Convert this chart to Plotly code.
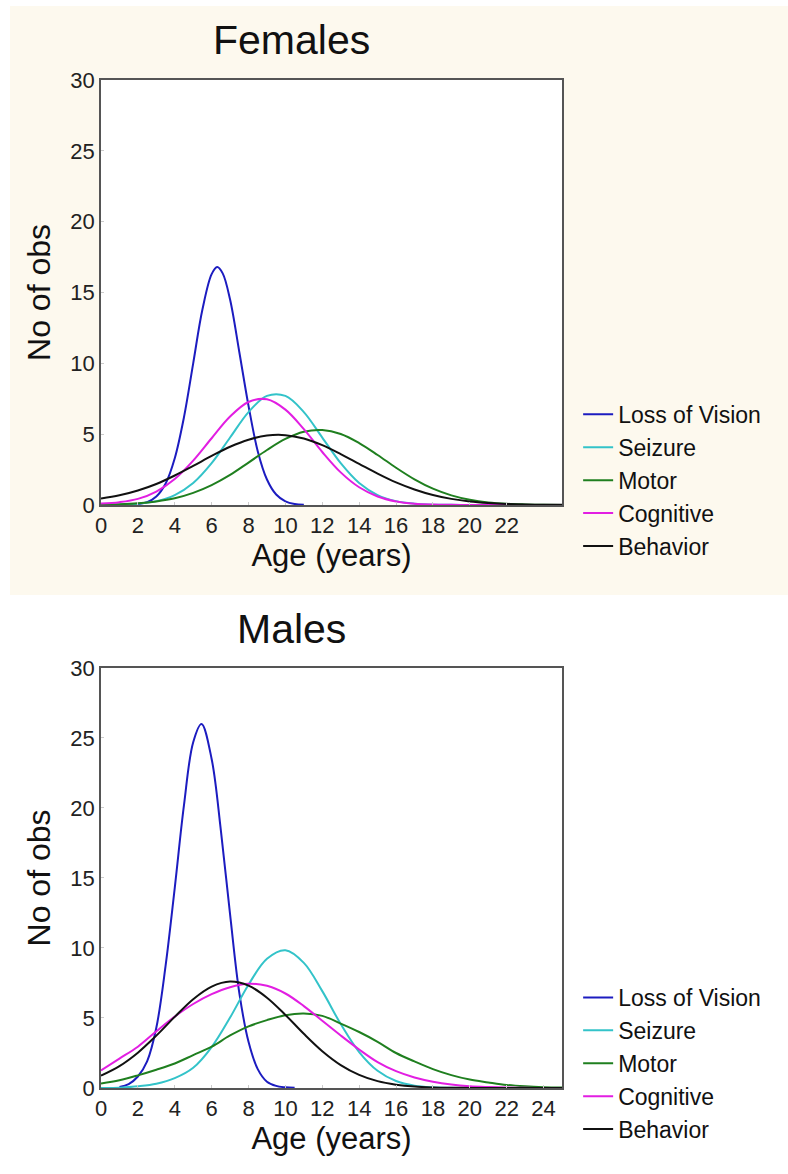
import plotly.graph_objects as go

# ---------------- data ----------------
SERIES = ["Loss of Vision", "Seizure", "Motor", "Cognitive", "Behavior"]
COLORS = ["#1C1CC0", "#33C3C9", "#1F7F1F", "#E21EE2", "#111111"]

AGE = list(range(26))  # 0 .. 25 years

# Females
f_vision_age = [2, 2.5, 3, 3.5, 4, 4.5, 5, 5.5, 6, 6.3, 6.6, 7, 7.5, 8, 8.5, 9, 9.5, 10, 10.5, 11]
f_vision = [0.06, 0.2, 0.6, 1.5, 3.3, 6.2, 10.0, 13.8, 16.3, 16.8, 16.35, 14.5, 10.8, 7.0, 3.8, 1.8, 0.74, 0.26, 0.07, 0.02]
f_seizure = [0.01, 0.02, 0.09, 0.27, 0.70, 1.55, 2.95, 4.76, 6.56, 7.70, 7.70, 6.56, 4.76, 2.95, 1.55, 0.70,
             0.27, 0.09, 0.02, 0.01, 0, 0, 0, 0, 0, 0]
f_motor = [0.02, 0.05, 0.12, 0.25, 0.47, 0.85, 1.40, 2.12, 2.99, 3.88, 4.66, 5.17, 5.29, 5.01, 4.37, 3.53,
           2.63, 1.81, 1.15, 0.68, 0.37, 0.18, 0.085, 0.04, 0.015, 0.005]
f_cognitive = [0.10, 0.20, 0.43, 0.95, 1.83, 3.13, 4.71, 6.24, 7.27, 7.46, 6.73, 5.35, 3.74, 2.30, 1.25, 0.60,
               0.25, 0.09, 0.03, 0.01, 0, 0, 0, 0, 0, 0]
f_behavior = [0.45, 0.68, 1.02, 1.48, 2.08, 2.76, 3.46, 4.11, 4.61, 4.90, 4.93, 4.69, 4.22, 3.59, 2.90, 2.21,
              1.59, 1.09, 0.70, 0.43, 0.25, 0.14, 0.07, 0.035, 0.016, 0.007]

# Males
m_vision_age = [1, 1.5, 2, 2.5, 3, 3.5, 4, 4.5, 5, 5.45, 6, 6.5, 7, 7.5, 8, 8.5, 9, 9.5, 10, 10.5]
m_vision = [0.08, 0.28, 0.82, 1.9, 4.3, 8.7, 14.3, 20.2, 24.7, 26.0, 23.5, 18.4, 12.4, 6.8, 3.3, 1.35, 0.45, 0.15, 0.05, 0.01]
m_seizure = [0.004, 0.02, 0.12, 0.30, 0.70, 1.44, 2.92, 5.03, 7.38, 9.23, 9.84, 8.94, 6.92, 4.57, 2.57, 1.23,
             0.50, 0.17, 0.05, 0.015, 0, 0, 0, 0, 0, 0]
m_motor = [0.32, 0.55, 0.90, 1.30, 1.75, 2.35, 2.95, 3.75, 4.40, 4.85, 5.20, 5.32, 5.15, 4.60, 4.00, 3.30,
           2.50, 1.90, 1.35, 0.92, 0.60, 0.40, 0.22, 0.12, 0.06, 0.03]
m_cognitive = [1.25, 2.10, 2.95, 4.05, 5.10, 6.00, 6.70, 7.20, 7.44, 7.30, 6.75, 5.85, 4.80, 3.75, 2.75, 1.85,
               1.20, 0.75, 0.45, 0.25, 0.13, 0.07, 0.03, 0.01, 0, 0]
m_behavior = [0.88, 1.56, 2.52, 3.74, 5.08, 6.34, 7.24, 7.60, 7.31, 6.45, 5.22, 3.87, 2.63, 1.64, 0.94, 0.49,
              0.24, 0.10, 0.04, 0.015, 0.005, 0, 0, 0, 0, 0]

F_TICKS = [0, 2, 4, 6, 8, 10, 12, 14, 16, 18, 20, 22]
M_TICKS = [0, 2, 4, 6, 8, 10, 12, 14, 16, 18, 20, 22, 24]
Y_TICKS = [0, 5, 10, 15, 20, 25, 30]

FONT = "Liberation Sans, Arial, sans-serif"

panels = [
    ("x", "y", "legend", [(f_vision_age, f_vision), (AGE, f_seizure), (AGE, f_motor), (AGE, f_cognitive), (AGE, f_behavior)]),
    ("x2", "y2", "legend2", [(m_vision_age, m_vision), (AGE, m_seizure), (AGE, m_motor), (AGE, m_cognitive), (AGE, m_behavior)]),
]

fig = go.Figure()
for xa, ya, leg, data in panels:
    for name, color, (xs, ys) in zip(SERIES, COLORS, data):
        fig.add_trace(go.Scatter(
            x=xs, y=ys, name=name, mode="lines",
            line=dict(color=color, width=2, shape="spline", smoothing=1),
            xaxis=xa, yaxis=ya, legend=leg, hoverinfo="x+y+name",
        ))

axis_common = dict(
    showline=True, mirror=True, linecolor="#555555", linewidth=1.5,
    showgrid=False, zeroline=False, ticks="inside", ticklen=3, tickcolor="#cccccc",
    tickfont=dict(family=FONT, size=22, color="#222222"),
)

fig.update_layout(
    width=788, height=1174, autosize=False,
    margin=dict(l=101, r=226, t=80, b=86),
    paper_bgcolor="white", plot_bgcolor="white",
    font=dict(family=FONT, color="#111111"),
    xaxis=dict(domain=[0, 1], anchor="y", range=[0, 25], tickvals=F_TICKS,
               title=dict(text="Age (years)", font=dict(family=FONT, size=31, color="#111111"), standoff=6),
               **axis_common),
    yaxis=dict(domain=[0.5784, 1.0], anchor="x", range=[0, 30], tickvals=Y_TICKS,
               title=dict(text="No of obs", font=dict(family=FONT, size=32, color="#111111"), standoff=10),
               **axis_common),
    xaxis2=dict(domain=[0, 1], anchor="y2", range=[0, 25], tickvals=M_TICKS,
                title=dict(text="Age (years)", font=dict(family=FONT, size=31, color="#111111"), standoff=6),
                **axis_common),
    yaxis2=dict(domain=[0.0, 0.4167], anchor="x2", range=[0, 30], tickvals=Y_TICKS,
                title=dict(text="No of obs", font=dict(family=FONT, size=32, color="#111111"), standoff=10),
                **axis_common),
    legend=dict(x=1.035, y=0.6896, xanchor="left", yanchor="top",
                bgcolor="rgba(0,0,0,0)", font=dict(family=FONT, size=23, color="#111111")),
    legend2=dict(x=1.035, y=0.1111, xanchor="left", yanchor="top",
                 bgcolor="rgba(0,0,0,0)", font=dict(family=FONT, size=23, color="#111111")),
    shapes=[
        dict(type="rect", xref="paper", yref="paper", x0=-0.1974, x1=1.49, y0=0.489, y1=1.0734,
             fillcolor="#FDF9EE", line=dict(width=0), layer="below"),
        dict(type="rect", xref="x domain", yref="y domain", x0=0, x1=1, y0=0, y1=1,
             fillcolor="white", line=dict(width=0), layer="below"),
    ],
    annotations=[
        dict(text="Females", xref="paper", yref="paper", x=0.4143, y=1.0397, showarrow=False,
             xanchor="center", yanchor="middle", font=dict(family=FONT, size=41, color="#111111")),
        dict(text="Males", xref="paper", yref="paper", x=0.4143, y=0.4554, showarrow=False,
             xanchor="center", yanchor="middle", font=dict(family=FONT, size=41, color="#111111")),
    ],
    showlegend=True,
)

fig.write_html("out.html")
